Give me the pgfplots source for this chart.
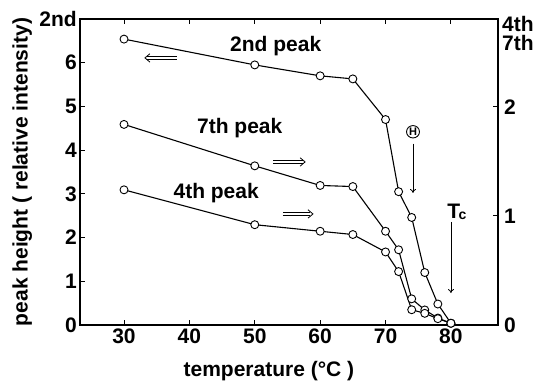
\documentclass[border=0pt]{standalone}
\usepackage{fontspec}
\setmainfont{Liberation Sans}
\usepackage{pgfplots}
\pgfplotsset{compat=1.18}
\usetikzlibrary{arrows.meta,shapes.geometric}
\newcommand{\bigbf}{\bfseries\fontsize{21}{22}\selectfont}
\newcommand{\rarr}[3]{%
 \draw[line width=0.8pt] ([yshift=1.6pt]axis cs:#1,#3) -- ([xshift=-2.5pt,yshift=1.6pt]axis cs:#2,#3);
 \draw[line width=0.8pt] ([yshift=-1.6pt]axis cs:#1,#3) -- ([xshift=-2.5pt,yshift=-1.6pt]axis cs:#2,#3);
 \draw[line width=0.8pt] ([xshift=-5pt,yshift=4.2pt]axis cs:#2,#3) -- (axis cs:#2,#3) -- ([xshift=-5pt,yshift=-4.2pt]axis cs:#2,#3);}
\newcommand{\larr}[3]{%
 \draw[line width=0.8pt] ([yshift=1.6pt]axis cs:#1,#3) -- ([xshift=2.5pt,yshift=1.6pt]axis cs:#2,#3);
 \draw[line width=0.8pt] ([yshift=-1.6pt]axis cs:#1,#3) -- ([xshift=2.5pt,yshift=-1.6pt]axis cs:#2,#3);
 \draw[line width=0.8pt] ([xshift=5pt,yshift=4.2pt]axis cs:#2,#3) -- (axis cs:#2,#3) -- ([xshift=5pt,yshift=-4.2pt]axis cs:#2,#3);}
\begin{document}
\begin{tikzpicture}
\useasboundingbox (-80pt,-60pt) rectangle (472pt,325pt);
\pgfplotsset{
  common/.style={
    scale only axis, width=418pt, height=306pt,
    xmin=23.27, xmax=87.2,
    /pgf/number format/assume math mode=true,
    tick label style={font=\bigbf},
    label style={font=\bigbf},
    tick align=inside,
    major tick length=5pt,
    axis line style={line width=1.3pt},
    every tick/.style={line width=1pt, black},
  },
  ser/.style={black, line width=1.1pt, mark=*, mark size=4pt,
    mark options={fill=white, draw=black, line width=0.9pt, solid}},
}
\begin{axis}[common,
  ymin=0, ymax=7,
  xtick={30,40,50,60,70,80},
  xtick pos=both,
  ytick={0,1,2,3,4,5,6,7},
  yticklabels={0,1,2,3,4,5,6,2nd},
  ytick pos=left,
  yticklabel style={inner sep=1pt, xshift=-2pt},
  xticklabel style={inner sep=1pt, yshift=-3pt},
  xlabel={temperature (\textdegree C )},
  xlabel style={at={(axis description cs:0.452,-0.15)}, anchor=center},
  ylabel={peak height ( relative intensity)},
  ylabel style={at={(axis description cs:-0.138,0.5)}, anchor=center, rotate=0},
]
\addplot[ser] coordinates {
(30,6.54) (50,5.95) (60,5.70) (65,5.63) (70,4.70) (72,3.05) (74,2.46) (76,1.20) (78,0.48) (80,0.04)
};
\node[font=\bigbf] at (axis cs:53.2,6.38) {2nd peak};
\node[font=\bigbf] at (axis cs:47.7,4.51) {7th peak};
\node[font=\bigbf] at (axis cs:44.1,3.02) {4th peak};
\larr{38.1}{33.2}{6.11}
\rarr{52.8}{57.7}{3.73}
\rarr{54.3}{58.9}{2.54}
\node[draw, ellipse, line width=0.9pt, inner sep=0.6pt, font=\bfseries\fontsize{11}{12}\selectfont] at (axis cs:74.2,4.42) {H};
\draw[line width=0.8pt, -{To[length=4pt,width=6pt]}] (axis cs:74.2,4.15) -- (axis cs:74.2,3.02);
\node[font=\bigbf] at (axis cs:80.9,2.59) {T\kern-1.5pt\raisebox{-1pt}{\fontsize{14}{14}\selectfont c}};
\draw[line width=0.8pt, -{To[length=4pt,width=6pt]}] (axis cs:80.0,2.36) -- (axis cs:80.0,0.73);
\end{axis}
\begin{axis}[common,
  ymin=0, ymax=2.807,
  axis x line=none,
  axis y line*=right,
  ytick={0,1,2},
  yticklabel style={inner sep=1pt, xshift=5pt},
  clip=false,
]
\addplot[ser] coordinates {
(30,1.84) (50,1.46) (60,1.28) (65,1.27) (70,0.86) (72,0.69) (74,0.24) (76,0.138) (78,0.064) (80,0.016)
};
\addplot[ser] coordinates {
(30,1.24) (50,0.92) (60,0.86) (65,0.83) (70,0.67) (72,0.49) (74,0.14) (76,0.107) (78,0.058) (80,0.016)
};
\node[font=\bfseries\fontsize{21}{19}\selectfont, anchor=north west, align=left, inner sep=0pt] at (rel axis cs:1,1) [xshift=4pt, yshift=3pt] {4th\\7th};
\end{axis}
\end{tikzpicture}
\end{document}
